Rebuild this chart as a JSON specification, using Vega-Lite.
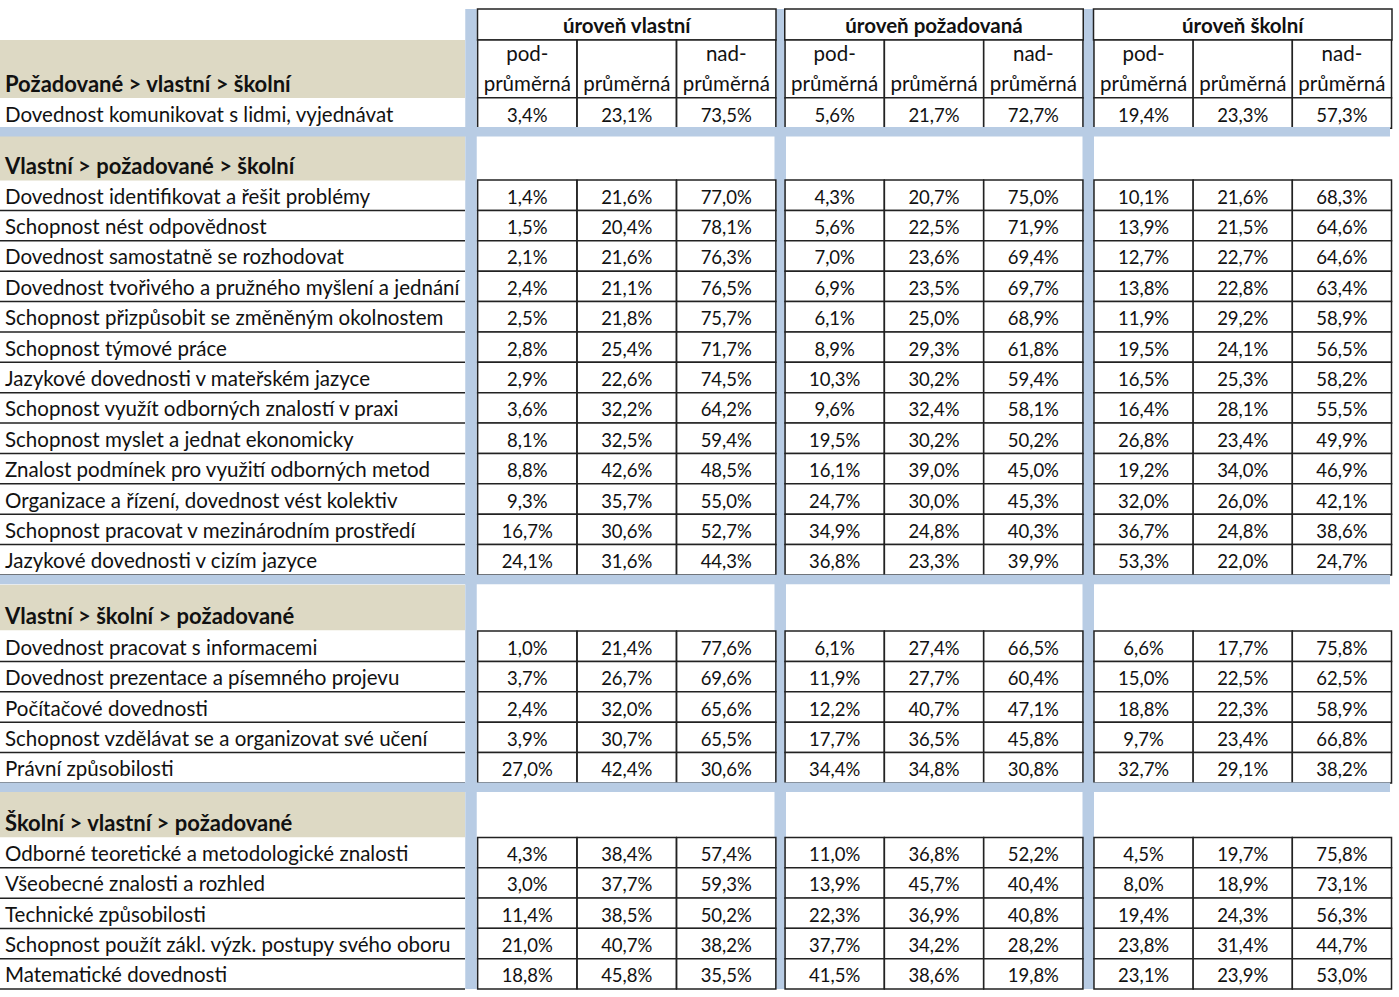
{
  "$schema": "https://vega.github.io/schema/vega-lite/v6.json",
  "width": 1399,
  "height": 997,
  "autosize": {"type": "none"},
  "padding": 0,
  "background": "white",
  "config": {
    "view": {"stroke": null},
    "locale": {"number": {"decimal": ",", "thousands": " ", "grouping": [3], "currency": ["", " Kč"]}},
    "text": {"font": "Lato", "fontSize": 20.5, "color": "#111111"}
  },
  "datasets": {
    "items": [
      {"section": "Požadované > vlastní > školní", "item": "Dovednost komunikovat s lidmi, vyjednávat", "row": 3, "v_pod": 0.034, "v_prum": 0.231, "v_nad": 0.735, "p_pod": 0.056, "p_prum": 0.217, "p_nad": 0.727, "s_pod": 0.194, "s_prum": 0.233, "s_nad": 0.573},
      {"section": "Vlastní  > požadované > školní", "item": "Dovednost identifikovat a řešit problémy", "row": 6, "v_pod": 0.014, "v_prum": 0.216, "v_nad": 0.770, "p_pod": 0.043, "p_prum": 0.207, "p_nad": 0.750, "s_pod": 0.101, "s_prum": 0.216, "s_nad": 0.683},
      {"section": "Vlastní  > požadované > školní", "item": "Schopnost nést odpovědnost", "row": 7, "v_pod": 0.015, "v_prum": 0.204, "v_nad": 0.781, "p_pod": 0.056, "p_prum": 0.225, "p_nad": 0.719, "s_pod": 0.139, "s_prum": 0.215, "s_nad": 0.646},
      {"section": "Vlastní  > požadované > školní", "item": "Dovednost samostatně se rozhodovat", "row": 8, "v_pod": 0.021, "v_prum": 0.216, "v_nad": 0.763, "p_pod": 0.070, "p_prum": 0.236, "p_nad": 0.694, "s_pod": 0.127, "s_prum": 0.227, "s_nad": 0.646},
      {"section": "Vlastní  > požadované > školní", "item": "Dovednost tvořivého a pružného myšlení a jednání", "row": 9, "v_pod": 0.024, "v_prum": 0.211, "v_nad": 0.765, "p_pod": 0.069, "p_prum": 0.235, "p_nad": 0.697, "s_pod": 0.138, "s_prum": 0.228, "s_nad": 0.634},
      {"section": "Vlastní  > požadované > školní", "item": "Schopnost přizpůsobit se změněným okolnostem", "row": 10, "v_pod": 0.025, "v_prum": 0.218, "v_nad": 0.757, "p_pod": 0.061, "p_prum": 0.250, "p_nad": 0.689, "s_pod": 0.119, "s_prum": 0.292, "s_nad": 0.589},
      {"section": "Vlastní  > požadované > školní", "item": "Schopnost týmové práce", "row": 11, "v_pod": 0.028, "v_prum": 0.254, "v_nad": 0.717, "p_pod": 0.089, "p_prum": 0.293, "p_nad": 0.618, "s_pod": 0.195, "s_prum": 0.241, "s_nad": 0.565},
      {"section": "Vlastní  > požadované > školní", "item": "Jazykové dovednosti v mateřském jazyce", "row": 12, "v_pod": 0.029, "v_prum": 0.226, "v_nad": 0.745, "p_pod": 0.103, "p_prum": 0.302, "p_nad": 0.594, "s_pod": 0.165, "s_prum": 0.253, "s_nad": 0.582},
      {"section": "Vlastní  > požadované > školní", "item": "Schopnost využít odborných znalostí v praxi", "row": 13, "v_pod": 0.036, "v_prum": 0.322, "v_nad": 0.642, "p_pod": 0.096, "p_prum": 0.324, "p_nad": 0.581, "s_pod": 0.164, "s_prum": 0.281, "s_nad": 0.555},
      {"section": "Vlastní  > požadované > školní", "item": "Schopnost myslet a jednat ekonomicky", "row": 14, "v_pod": 0.081, "v_prum": 0.325, "v_nad": 0.594, "p_pod": 0.195, "p_prum": 0.302, "p_nad": 0.502, "s_pod": 0.268, "s_prum": 0.234, "s_nad": 0.499},
      {"section": "Vlastní  > požadované > školní", "item": "Znalost podmínek pro využití odborných metod", "row": 15, "v_pod": 0.088, "v_prum": 0.426, "v_nad": 0.485, "p_pod": 0.161, "p_prum": 0.390, "p_nad": 0.450, "s_pod": 0.192, "s_prum": 0.340, "s_nad": 0.469},
      {"section": "Vlastní  > požadované > školní", "item": "Organizace a řízení, dovednost vést kolektiv", "row": 16, "v_pod": 0.093, "v_prum": 0.357, "v_nad": 0.550, "p_pod": 0.247, "p_prum": 0.300, "p_nad": 0.453, "s_pod": 0.320, "s_prum": 0.260, "s_nad": 0.421},
      {"section": "Vlastní  > požadované > školní", "item": "Schopnost pracovat v mezinárodním prostředí", "row": 17, "v_pod": 0.167, "v_prum": 0.306, "v_nad": 0.527, "p_pod": 0.349, "p_prum": 0.248, "p_nad": 0.403, "s_pod": 0.367, "s_prum": 0.248, "s_nad": 0.386},
      {"section": "Vlastní  > požadované > školní", "item": "Jazykové dovednosti v cizím jazyce", "row": 18, "v_pod": 0.241, "v_prum": 0.316, "v_nad": 0.443, "p_pod": 0.368, "p_prum": 0.233, "p_nad": 0.399, "s_pod": 0.533, "s_prum": 0.220, "s_nad": 0.247},
      {"section": "Vlastní > školní > požadované", "item": "Dovednost pracovat s informacemi", "row": 21, "v_pod": 0.010, "v_prum": 0.214, "v_nad": 0.776, "p_pod": 0.061, "p_prum": 0.274, "p_nad": 0.665, "s_pod": 0.066, "s_prum": 0.177, "s_nad": 0.758},
      {"section": "Vlastní > školní > požadované", "item": "Dovednost prezentace a písemného projevu", "row": 22, "v_pod": 0.037, "v_prum": 0.267, "v_nad": 0.696, "p_pod": 0.119, "p_prum": 0.277, "p_nad": 0.604, "s_pod": 0.150, "s_prum": 0.225, "s_nad": 0.625},
      {"section": "Vlastní > školní > požadované", "item": "Počítačové dovednosti", "row": 23, "v_pod": 0.024, "v_prum": 0.320, "v_nad": 0.656, "p_pod": 0.122, "p_prum": 0.407, "p_nad": 0.471, "s_pod": 0.188, "s_prum": 0.223, "s_nad": 0.589},
      {"section": "Vlastní > školní > požadované", "item": "Schopnost vzdělávat se a organizovat své učení", "row": 24, "v_pod": 0.039, "v_prum": 0.307, "v_nad": 0.655, "p_pod": 0.177, "p_prum": 0.365, "p_nad": 0.458, "s_pod": 0.097, "s_prum": 0.234, "s_nad": 0.668},
      {"section": "Vlastní > školní > požadované", "item": "Právní způsobilosti", "row": 25, "v_pod": 0.270, "v_prum": 0.424, "v_nad": 0.306, "p_pod": 0.344, "p_prum": 0.348, "p_nad": 0.308, "s_pod": 0.327, "s_prum": 0.291, "s_nad": 0.382},
      {"section": "Školní > vlastní > požadované", "item": "Odborné teoretické a metodologické znalosti", "row": 28, "v_pod": 0.043, "v_prum": 0.384, "v_nad": 0.574, "p_pod": 0.110, "p_prum": 0.368, "p_nad": 0.522, "s_pod": 0.045, "s_prum": 0.197, "s_nad": 0.758},
      {"section": "Školní > vlastní > požadované", "item": "Všeobecné znalosti a rozhled", "row": 29, "v_pod": 0.030, "v_prum": 0.377, "v_nad": 0.593, "p_pod": 0.139, "p_prum": 0.457, "p_nad": 0.404, "s_pod": 0.080, "s_prum": 0.189, "s_nad": 0.731},
      {"section": "Školní > vlastní > požadované", "item": "Technické způsobilosti", "row": 30, "v_pod": 0.114, "v_prum": 0.385, "v_nad": 0.502, "p_pod": 0.223, "p_prum": 0.369, "p_nad": 0.408, "s_pod": 0.194, "s_prum": 0.243, "s_nad": 0.563},
      {"section": "Školní > vlastní > požadované", "item": "Schopnost použít zákl. výzk. postupy svého oboru", "row": 31, "v_pod": 0.210, "v_prum": 0.407, "v_nad": 0.382, "p_pod": 0.377, "p_prum": 0.342, "p_nad": 0.282, "s_pod": 0.238, "s_prum": 0.314, "s_nad": 0.447},
      {"section": "Školní > vlastní > požadované", "item": "Matematické dovednosti", "row": 32, "v_pod": 0.188, "v_prum": 0.458, "v_nad": 0.355, "p_pod": 0.415, "p_prum": 0.386, "p_nad": 0.198, "s_pod": 0.231, "s_prum": 0.239, "s_nad": 0.530}
    ],
    "columns": [
      {"key": "v_pod", "group": "úroveň vlastní", "line1": "pod-", "line2": "průměrná", "col": 2},
      {"key": "v_prum", "group": "úroveň vlastní", "line1": "", "line2": "průměrná", "col": 3},
      {"key": "v_nad", "group": "úroveň vlastní", "line1": "nad-", "line2": "průměrná", "col": 4},
      {"key": "p_pod", "group": "úroveň požadovaná", "line1": "pod-", "line2": "průměrná", "col": 6},
      {"key": "p_prum", "group": "úroveň požadovaná", "line1": "", "line2": "průměrná", "col": 7},
      {"key": "p_nad", "group": "úroveň požadovaná", "line1": "nad-", "line2": "průměrná", "col": 8},
      {"key": "s_pod", "group": "úroveň školní", "line1": "pod-", "line2": "průměrná", "col": 10},
      {"key": "s_prum", "group": "úroveň školní", "line1": "", "line2": "průměrná", "col": 11},
      {"key": "s_nad", "group": "úroveň školní", "line1": "nad-", "line2": "průměrná", "col": 12}
    ],
    "groups": [
      {"group": "úroveň vlastní", "col": 3},
      {"group": "úroveň požadovaná", "col": 7},
      {"group": "úroveň školní", "col": 11}
    ],
    "sections": [
      {"section": "Požadované > vlastní > školní", "row": 2},
      {"section": "Vlastní  > požadované > školní", "row": 5},
      {"section": "Vlastní > školní > požadované", "row": 20},
      {"section": "Školní > vlastní > požadované", "row": 27}
    ],
    "spacerRows": [{"row": 4}, {"row": 19}, {"row": 26}],
    "spacerCols": [{"col": 1}, {"col": 5}, {"col": 9}]
  },
  "layer": [
    {
      "data": {"name": "sections"},
      "transform": [{"filter": "datum.row == 2"}],
      "mark": {"type": "rect", "color": "#DDD9C4"},
      "encoding": {
        "x": {"datum": -0.5, "type": "quantitative", "axis": null, "scale": {"domain": [-0.5, 0.5, 1.5, 4.5, 5.5, 8.5, 9.5, 12.5], "range": [0, 465, 477.5, 776, 785, 1083, 1094, 1391.5], "zero": false, "nice": false}},
        "x2": {"datum": 0.5},
        "y": {"datum": 0.5, "type": "quantitative", "axis": null, "scale": {"domain": [-0.5, 0.5, 2.5, 3.5, 4.5, 5.5, 18.5, 19.5, 20.5, 25.5, 26.5, 27.5, 32.5], "range": [9, 40, 98, 128, 136, 180, 575, 584.5, 631, 783, 792, 837.5, 989], "zero": false, "nice": false}},
        "y2": {"datum": 2.5}
      }
    },
    {
      "data": {"name": "sections"},
      "transform": [{"filter": "datum.row > 2"}],
      "mark": {"type": "rect", "color": "#DDD9C4", "yOffset": -23, "y2Offset": 22.5},
      "encoding": {
        "x": {"datum": -0.5, "type": "quantitative", "axis": null},
        "x2": {"datum": 0.5},
        "y": {"field": "row", "type": "quantitative", "axis": null},
        "y2": {"field": "row"}
      }
    },
    {
      "data": {"name": "items"},
      "mark": {"type": "rule", "color": "#222222", "strokeWidth": 1.5, "yOffset": 15.2},
      "encoding": {
        "x": {"datum": -0.5, "type": "quantitative", "axis": null},
        "x2": {"datum": 0.5},
        "y": {"field": "row", "type": "quantitative", "axis": null}
      }
    },
    {
      "data": {"name": "spacerCols"},
      "mark": {"type": "rect", "color": "#B8CCE4", "xOffset": -6, "x2Offset": 5.5},
      "encoding": {
        "x": {"field": "col", "type": "quantitative", "axis": null},
        "x2": {"field": "col"},
        "y": {"datum": -0.5, "type": "quantitative", "axis": null},
        "y2": {"datum": 32.5}
      }
    },
    {
      "data": {"name": "groups"},
      "mark": {"type": "rect", "fill": "white", "stroke": "#222222", "strokeWidth": 1.5, "xOffset": -149.25, "x2Offset": 149.25},
      "encoding": {
        "x": {"field": "col", "type": "quantitative", "axis": null},
        "x2": {"field": "col"},
        "y": {"datum": -0.5, "type": "quantitative", "axis": null},
        "y2": {"datum": 0.5}
      }
    },
    {
      "data": {"name": "columns"},
      "mark": {"type": "rect", "fill": "white", "stroke": "#222222", "strokeWidth": 1.5, "xOffset": -49.6, "x2Offset": 49.6},
      "encoding": {
        "x": {"field": "col", "type": "quantitative", "axis": null},
        "x2": {"field": "col"},
        "y": {"datum": 0.5, "type": "quantitative", "axis": null},
        "y2": {"datum": 2.5}
      }
    },
    {
      "data": {"name": "items"},
      "transform": [
        {"fold": ["v_pod", "v_prum", "v_nad", "p_pod", "p_prum", "p_nad", "s_pod", "s_prum", "s_nad"], "as": ["key", "value"]},
        {"lookup": "key", "from": {"data": {"name": "columns"}, "key": "key", "fields": ["col", "group"]}}
      ],
      "mark": {"type": "rect", "fill": "white", "stroke": "#222222", "strokeWidth": 1.5, "xOffset": -49.6, "x2Offset": 49.6, "yOffset": -15.2, "y2Offset": 15.2},
      "encoding": {
        "x": {"field": "col", "type": "quantitative", "axis": null},
        "x2": {"field": "col"},
        "y": {"field": "row", "type": "quantitative", "axis": null},
        "y2": {"field": "row"}
      }
    },
    {
      "data": {"name": "spacerRows"},
      "mark": {"type": "rect", "color": "#B8CCE4", "yOffset": -5, "y2Offset": 4.5, "x2Offset": -1.5},
      "encoding": {
        "x": {"datum": -0.5, "type": "quantitative", "axis": null},
        "x2": {"datum": 12.5},
        "y": {"field": "row", "type": "quantitative", "axis": null},
        "y2": {"field": "row"}
      }
    },
    {
      "data": {"name": "groups"},
      "mark": {"type": "text", "fontWeight": "bold", "fontSize": 20.5, "align": "center", "dy": 2},
      "encoding": {
        "x": {"field": "col", "type": "quantitative", "axis": null},
        "y": {"datum": 0, "type": "quantitative", "axis": null},
        "text": {"field": "group"}
      }
    },
    {
      "data": {"name": "columns"},
      "mark": {"type": "text", "align": "center", "dy": 0.5},
      "encoding": {
        "x": {"field": "col", "type": "quantitative", "axis": null},
        "y": {"datum": 1, "type": "quantitative", "axis": null},
        "text": {"field": "line1"}
      }
    },
    {
      "data": {"name": "columns"},
      "mark": {"type": "text", "align": "center", "dy": 1.5},
      "encoding": {
        "x": {"field": "col", "type": "quantitative", "axis": null},
        "y": {"datum": 2, "type": "quantitative", "axis": null},
        "text": {"field": "line2"}
      }
    },
    {
      "data": {"name": "sections"},
      "transform": [{"filter": "datum.row == 2"}],
      "mark": {"type": "text", "fontWeight": "bold", "fontSize": 22, "align": "left", "dx": 5, "dy": 1.5},
      "encoding": {
        "x": {"datum": -0.5, "type": "quantitative", "axis": null},
        "y": {"field": "row", "type": "quantitative", "axis": null},
        "text": {"field": "section"}
      }
    },
    {
      "data": {"name": "sections"},
      "transform": [{"filter": "datum.row > 2"}],
      "mark": {"type": "text", "fontWeight": "bold", "fontSize": 22, "align": "left", "dx": 5, "dy": 9},
      "encoding": {
        "x": {"datum": -0.5, "type": "quantitative", "axis": null},
        "y": {"field": "row", "type": "quantitative", "axis": null},
        "text": {"field": "section"}
      }
    },
    {
      "data": {"name": "items"},
      "mark": {"type": "text", "align": "left", "dx": 5, "dy": 2.5},
      "encoding": {
        "x": {"datum": -0.5, "type": "quantitative", "axis": null},
        "y": {"field": "row", "type": "quantitative", "axis": null},
        "text": {"field": "item"}
      }
    },
    {
      "data": {"name": "items"},
      "transform": [
        {"fold": ["v_pod", "v_prum", "v_nad", "p_pod", "p_prum", "p_nad", "s_pod", "s_prum", "s_nad"], "as": ["key", "value"]},
        {"lookup": "key", "from": {"data": {"name": "columns"}, "key": "key", "fields": ["col", "group"]}}
      ],
      "mark": {"type": "text", "align": "center", "fontSize": 18.5, "dy": 2.5},
      "encoding": {
        "x": {"field": "col", "type": "quantitative", "axis": null},
        "y": {"field": "row", "type": "quantitative", "axis": null},
        "text": {"field": "value", "type": "quantitative", "format": ".1%"}
      }
    }
  ]
}
